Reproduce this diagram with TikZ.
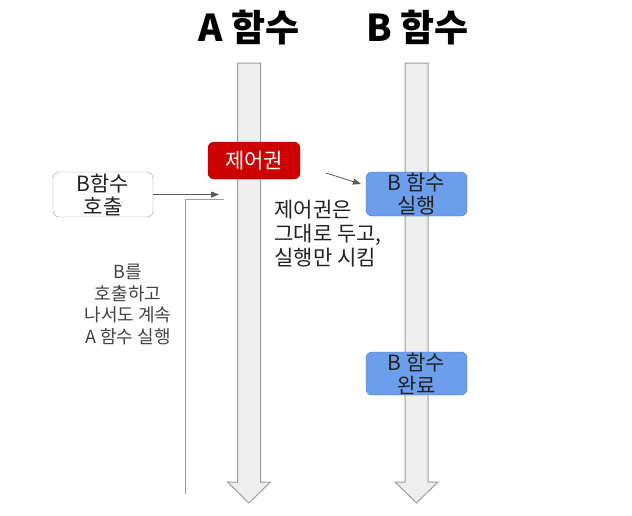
\documentclass[tikz,border=0pt]{standalone}
\usepackage{fontspec}
\setmainfont{Noto Sans CJK KR}
\usetikzlibrary{arrows.meta,positioning}
\definecolor{Red}{HTML}{CC0000}
\definecolor{RedLine}{HTML}{A00000}
\definecolor{Blue}{HTML}{6D9EEB}
\definecolor{BlueLine}{HTML}{3C78D8}
\definecolor{Lane}{HTML}{EEEEEE}
\definecolor{LaneLine}{HTML}{9E9E9E}
\definecolor{Muted}{HTML}{595959}
\definecolor{Ink}{HTML}{222222}

\begin{document}
\begin{tikzpicture}[x=1pt,y=-1pt,
        t/.style={font=\fontsize{37}{42}\selectfont\bfseries},
        b/.style={draw,rounded corners=6pt,align=center,inner sep=0pt,minimum width=101pt,minimum height=44pt,text=Ink,font=\fontsize{21}{23}\selectfont},
        lane/.style={draw=LaneLine,fill=Lane,line width=1pt},
        a/.style={-{Triangle[length=8pt,width=6pt]},draw=Muted,line width=0.8pt}]
        \useasboundingbox (0,0) rectangle (632,515);
        \foreach \c in {249,416.5}
          \draw[lane] (\c-11.5,63) -- (\c+11.5,63) -- (\c+11.5,482) -- (\c+21.5,482) -- (\c,503) -- (\c-21.5,482) -- (\c-11.5,482) -- cycle;
        \node[t] (ta) at (249,28) {A 함수};
        \node[t] (tb) at (417.5,28) {B 함수};
        \node[b,draw=RedLine,fill=Red,text=white,minimum width=92pt,minimum height=37pt,font=\fontsize{21}{24}\selectfont] (ctrl) at (254,160.5) {제어권};
        \node[b,draw=LaneLine,fill=white,minimum width=100pt,minimum height=45pt] (call) at (103,194.5) {B함수\\호출};
        \node[b,draw=BlueLine,fill=Blue] (run) at (416.5,194) {B 함수\\실행};
        \node[b,draw=BlueLine,fill=Blue,minimum height=43pt] (done) at (416.5,373.5) {B 함수\\완료};
        \node[anchor=west,align=left,text=Ink,font=\fontsize{21}{24}\selectfont] (keep) at (271,234) {제어권은\\그대로 두고,\\실행만 시킴};
        \node[align=center,text=Ink!85,font=\fontsize{18}{21.5}\selectfont] (cont) at (128,304.5) {B를\\호출하고\\나서도 계속\\A 함수 실행};
        \coordinate (callend) at (219,194.5);
        \coordinate (loopbot) at (185,494);
        \coordinate (looptop) at (224,199);
        \coordinate (ctrlout) at (326,173);
        \coordinate (runin) at (361,184);
        \draw[a] (call.east) -- (callend);
        \draw[draw=LaneLine,line width=1pt] (loopbot) |- (looptop);
        \draw[a] (ctrlout) -- (runin);
      \end{tikzpicture}
\end{document}
